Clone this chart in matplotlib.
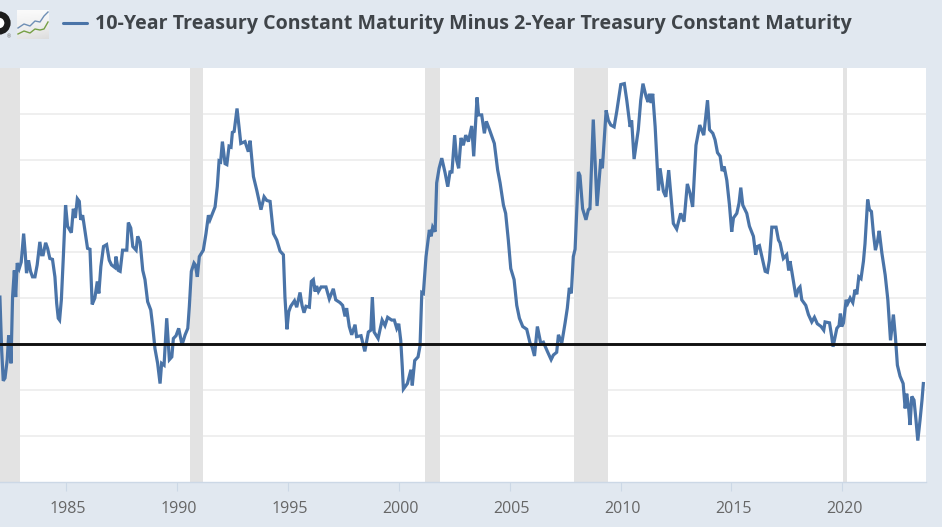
import numpy as np
import matplotlib
matplotlib.use('Agg')
import matplotlib.pyplot as plt
from matplotlib.patches import Circle
from matplotlib.transforms import ScaledTranslation

series_name = '10-Year Treasury Constant Maturity Minus 2-Year Treasury Constant Maturity'

# decimal year, spread in percentage points
years = [
    1982.02, 1982.10, 1982.17, 1982.25, 1982.35, 1982.41, 1982.47, 1982.52, 1982.59, 1982.67,
    1982.73, 1982.80, 1982.89, 1982.98, 1983.09, 1983.16, 1983.22, 1983.31, 1983.40, 1983.49,
    1983.60, 1983.70, 1983.82, 1983.90, 1983.97, 1984.08, 1984.17, 1984.27, 1984.39, 1984.50,
    1984.58, 1984.65, 1984.71, 1984.79, 1984.88, 1984.98, 1985.07, 1985.24, 1985.33, 1985.42,
    1985.51, 1985.60, 1985.66, 1985.75, 1985.87, 1985.97, 1986.08, 1986.18, 1986.30, 1986.41,
    1986.48, 1986.57, 1986.69, 1986.83, 1986.95, 1987.05, 1987.21, 1987.25, 1987.36, 1987.44,
    1987.55, 1987.74, 1987.81, 1987.92, 1988.01, 1988.16, 1988.23, 1988.34, 1988.46, 1988.56,
    1988.68, 1988.82, 1988.91, 1989.01, 1989.13, 1989.24, 1989.31, 1989.42, 1989.54, 1989.66,
    1989.77, 1989.84, 1989.96, 1990.08, 1990.23, 1990.37, 1990.49, 1990.56, 1990.65, 1990.77,
    1990.83, 1990.92, 1991.01, 1991.19, 1991.31, 1991.42, 1991.49, 1991.72, 1991.82, 1991.90,
    1991.97, 1992.05, 1992.17, 1992.25, 1992.35, 1992.44, 1992.50, 1992.58, 1992.71, 1992.88,
    1993.07, 1993.22, 1993.30, 1993.45, 1993.60, 1993.79, 1993.93, 1994.05, 1994.20, 1994.35,
    1994.50, 1994.65, 1994.80, 1994.87, 1994.96, 1995.04, 1995.13, 1995.30, 1995.40, 1995.55,
    1995.64, 1995.73, 1995.82, 1995.97, 1996.06, 1996.15, 1996.23, 1996.30, 1996.38, 1996.50,
    1996.72, 1996.87, 1997.05, 1997.16, 1997.35, 1997.47, 1997.58, 1997.65, 1997.77, 1997.88,
    1998.03, 1998.10, 1998.30, 1998.47, 1998.63, 1998.74, 1998.81, 1998.89, 1999.07, 1999.25,
    1999.38, 1999.50, 1999.68, 1999.80, 1999.91, 2000.00, 2000.09, 2000.16, 2000.21, 2000.39,
    2000.55, 2000.61, 2000.72, 2000.87, 2000.96, 2001.04, 2001.11, 2001.23, 2001.38, 2001.46,
    2001.53, 2001.64, 2001.71, 2001.82, 2001.94, 2002.09, 2002.21, 2002.31, 2002.40, 2002.52,
    2002.61, 2002.70, 2002.81, 2002.91, 2003.02, 2003.14, 2003.29, 2003.38, 2003.53, 2003.60,
    2003.74, 2003.86, 2003.95, 2004.09, 2004.31, 2004.46, 2004.57, 2004.72, 2004.82, 2004.94,
    2005.05, 2005.20, 2005.32, 2005.44, 2005.59, 2005.77, 2005.92, 2006.01, 2006.12, 2006.25,
    2006.40, 2006.52, 2006.70, 2006.87, 2006.97, 2007.12, 2007.20, 2007.35, 2007.50, 2007.60,
    2007.69, 2007.78, 2007.87, 2007.95, 2008.10, 2008.17, 2008.29, 2008.44, 2008.55, 2008.62,
    2008.77, 2008.94, 2009.11, 2009.18, 2009.35, 2009.45, 2009.56, 2009.71, 2009.83, 2010.01,
    2010.17, 2010.28, 2010.43, 2010.50, 2010.61, 2010.80, 2010.91, 2011.01, 2011.15, 2011.24,
    2011.30, 2011.38, 2011.45, 2011.56, 2011.71, 2011.78, 2011.93, 2012.04, 2012.17, 2012.26,
    2012.38, 2012.53, 2012.71, 2012.86, 2013.01, 2013.13, 2013.25, 2013.40, 2013.57, 2013.75,
    2013.92, 2014.01, 2014.16, 2014.26, 2014.37, 2014.49, 2014.58, 2014.67, 2014.79, 2014.91,
    2015.01, 2015.09, 2015.24, 2015.34, 2015.42, 2015.51, 2015.69, 2015.81, 2015.99, 2016.09,
    2016.17, 2016.26, 2016.41, 2016.52, 2016.62, 2016.71, 2016.82, 2017.01, 2017.12, 2017.19,
    2017.34, 2017.49, 2017.58, 2017.64, 2017.72, 2017.91, 2018.02, 2018.09, 2018.17, 2018.35,
    2018.47, 2018.62, 2018.74, 2018.87, 2019.04, 2019.16, 2019.22, 2019.42, 2019.52, 2019.58,
    2019.75, 2019.85, 2019.91, 2019.97, 2020.05, 2020.17, 2020.24, 2020.35, 2020.47, 2020.57,
    2020.65, 2020.74, 2020.84, 2020.95, 2021.02, 2021.14, 2021.22, 2021.31, 2021.40, 2021.49,
    2021.58, 2021.66, 2021.78, 2021.93, 2022.05, 2022.17, 2022.30, 2022.39, 2022.48, 2022.60,
    2022.74, 2022.83, 2022.90, 2022.98, 2023.05, 2023.13, 2023.23, 2023.32, 2023.40, 2023.50,
    2023.59, 2023.65,
]
spread = [
    0.51, -0.07, -0.40, -0.37, -0.17, 0.08, 0.08, -0.21, 0.51, 0.80,
    0.51, 0.88, 0.82, 0.89, 1.20, 0.99, 0.77, 0.91, 0.79, 0.73,
    0.73, 0.86, 1.11, 0.97, 0.97, 1.10, 1.04, 0.93, 0.92, 0.73,
    0.44, 0.28, 0.26, 0.48, 0.95, 1.51, 1.28, 1.21, 1.47, 1.37,
    1.58, 1.55, 1.35, 1.40, 1.20, 1.04, 1.03, 0.43, 0.50, 0.68,
    0.55, 0.84, 1.06, 1.08, 0.91, 0.86, 0.83, 0.95, 0.80, 0.79,
    1.02, 1.02, 1.32, 1.26, 1.06, 1.02, 1.17, 1.11, 0.80, 0.70,
    0.46, 0.37, 0.19, -0.05, -0.21, -0.43, -0.21, -0.23, 0.28, -0.17,
    -0.14, 0.06, 0.09, 0.17, -0.01, 0.10, 0.17, 0.41, 0.79, 0.88,
    0.86, 0.73, 0.95, 1.02, 1.20, 1.40, 1.35, 1.49, 1.71, 1.99,
    1.98, 2.20, 1.96, 1.95, 2.15, 2.14, 2.30, 2.31, 2.56, 2.18,
    2.20, 2.09, 2.21, 1.82, 1.67, 1.46, 1.60, 1.56, 1.55, 1.20,
    1.13, 1.01, 0.97, 0.51, 0.16, 0.35, 0.41, 0.47, 0.40, 0.56,
    0.42, 0.34, 0.41, 0.40, 0.68, 0.70, 0.57, 0.63, 0.57, 0.62,
    0.62, 0.49, 0.60, 0.48, 0.45, 0.42, 0.30, 0.39, 0.19, 0.10,
    0.21, 0.08, 0.09, -0.08, 0.13, 0.15, 0.51, 0.13, 0.06, 0.26,
    0.20, 0.29, 0.26, 0.26, 0.17, 0.22, 0.04, -0.25, -0.49, -0.43,
    -0.28, -0.45, -0.18, -0.14, -0.02, 0.56, 0.55, 0.95, 1.24, 1.17,
    1.27, 1.22, 1.75, 1.91, 2.02, 1.86, 1.71, 1.87, 1.87, 2.27,
    2.00, 1.91, 2.24, 2.16, 2.27, 2.20, 2.37, 2.04, 2.68, 2.49,
    2.49, 2.29, 2.42, 2.33, 2.18, 1.89, 1.75, 1.51, 1.42, 1.13,
    0.82, 0.70, 0.42, 0.28, 0.19, 0.16, 0.01, -0.03, -0.13, 0.19,
    0.01, 0.02, -0.08, -0.17, -0.12, -0.09, 0.10, 0.01, 0.23, 0.39,
    0.61, 0.55, 0.95, 1.03, 1.87, 1.83, 1.47, 1.35, 1.46, 1.47,
    2.44, 1.50, 2.01, 1.91, 2.54, 2.43, 2.38, 2.36, 2.53, 2.82,
    2.83, 2.65, 2.36, 2.43, 2.01, 2.33, 2.65, 2.83, 2.69, 2.63,
    2.72, 2.62, 2.72, 2.36, 1.67, 1.91, 1.66, 1.60, 1.89, 1.64,
    1.31, 1.25, 1.42, 1.33, 1.74, 1.64, 1.49, 2.16, 2.38, 2.27,
    2.65, 2.33, 2.29, 2.22, 2.08, 2.04, 1.88, 1.93, 1.78, 1.51,
    1.22, 1.37, 1.42, 1.53, 1.70, 1.51, 1.42, 1.28, 1.17, 0.97,
    1.06, 1.07, 0.91, 0.79, 0.78, 0.91, 1.27, 1.27, 1.13, 1.10,
    0.93, 0.97, 0.80, 0.90, 0.79, 0.51, 0.60, 0.62, 0.48, 0.42,
    0.32, 0.24, 0.29, 0.22, 0.19, 0.15, 0.24, 0.23, 0.08, -0.03,
    0.17, 0.20, 0.33, 0.19, 0.23, 0.48, 0.44, 0.50, 0.45, 0.59,
    0.54, 0.73, 0.71, 0.90, 1.09, 1.57, 1.46, 1.44, 1.20, 1.02,
    1.11, 1.23, 0.99, 0.75, 0.48, 0.04, 0.32, 0.08, -0.23, -0.35,
    -0.43, -0.70, -0.54, -0.68, -0.88, -0.57, -0.61, -0.83, -1.05, -0.83,
    -0.61, -0.43,
]

recession_start = [1981.5, 1990.58, 2001.20, 2007.88, 2020.05]
recession_end = [1982.92, 1991.18, 2001.86, 2009.43, 2020.20]

tick_years = [1985, 1990, 1995, 2000, 2005, 2010, 2015, 2020]
grid_levels = [-1.0, -0.5, 0.5, 1.0, 1.5, 2.0, 2.5]

W, H = 942, 527
bg = '#e1e8f0'

plt.rcParams['font.family'] = ['Open Sans', 'DejaVu Sans']

fig = plt.figure(figsize=(W / 100, H / 100), dpi=100, facecolor=bg)
ax = fig.add_axes([0, (H - 482) / H, 926 / W, (482 - 68) / H], facecolor='white')

ax.set_xlim(1982.024, 2023.77)
ax.set_ylim(-1.5, 3.0)

for level in grid_levels:
    ax.axhline(level, color='#ebebeb', lw=1.1, zorder=1)
for start, end in zip(recession_start, recession_end):
    ax.axvspan(start, end, color='#e3e3e3', lw=0, zorder=2)

ax.plot(years, spread, color='#4a74a8', lw=2.3, solid_joinstyle='miter', zorder=3)
ax.axhline(0, color='#111111', lw=2.1, zorder=4)

for side in ['top', 'left', 'right']:
    ax.spines[side].set_visible(False)
ax.spines['bottom'].set_color('#ccd8e6')
ax.spines['bottom'].set_linewidth(1)

ax.set_yticks([])
ax.set_xticks(tick_years)
ax.tick_params(axis='x', length=6.5, width=0.8, color='#ccd8e6', labelcolor='#666666',
               labelsize=11.5, pad=7)
shift = ScaledTranslation(2 / 100, 0, fig.dpi_scale_trans)
for label in ax.get_xticklabels():
    label.set_transform(label.get_transform() + shift)

# header strip: clipped logo, chart icon, legend key and series name, in pixel coordinates
top = fig.add_axes([0, 0, 1, 1], facecolor='none')
top.axis('off')

top.add_patch(Circle((-1, 23), 8.5, fc='white', ec='#1c1c1c', lw=4.5))
top.text(9, 37, '®', fontsize=3.5, color='#666666', ha='center', va='center')

shade = np.linspace(0, 1, 32)[:, None] * np.linspace(0.75, 1, 32)[None, :]
top.imshow(shade, extent=(17, 49, 39, 10), cmap='Greys', vmin=-0.2, vmax=5, zorder=2, aspect='auto')
top.plot([18, 24, 30, 35, 40, 44, 48], [28, 24, 26, 21, 22, 16, 12], color='#6f8fb5', lw=1.0, zorder=3)
top.plot([18, 24, 30, 35, 40, 44, 48], [34, 31, 33, 29, 30, 29, 22], color='#76a045', lw=1.0, zorder=3)

top.plot([63, 87], [23, 23], color='#4a74a8', lw=2.2, solid_capstyle='round')
top.text(95, 24.5, series_name, fontsize=14.15, fontweight='bold', color='#3f4449',
         ha='left', va='center')

top.set_xlim(0, W)
top.set_ylim(H, 0)

fig.savefig('out.png', dpi=100, facecolor=bg)
